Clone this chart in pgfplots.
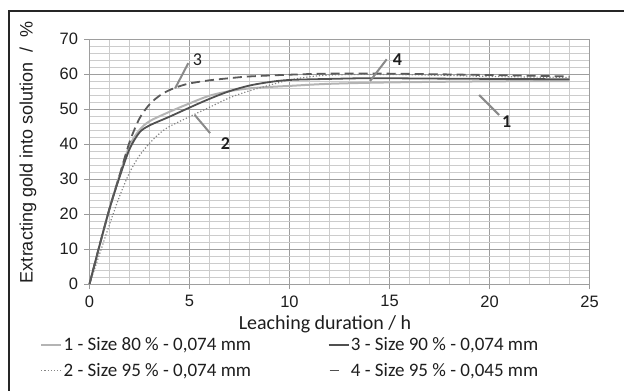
\documentclass[border=0pt]{standalone}
\usepackage{fontspec}
\setmainfont{Liberation Sans}
\newfontfamily\calibri{Carlito}
\newfontfamily\arialf{Liberation Sans}
\usepackage{pgfplots}
\usepackage{pgfplotstable}
\pgfplotsset{compat=1.18}
\definecolor{txt}{HTML}{1E1E1E}
\definecolor{lightc}{HTML}{B4B4B4}
\definecolor{darkc}{HTML}{505050}
\definecolor{dashc}{HTML}{5A5A5A}
\definecolor{dotc}{HTML}{858585}
\definecolor{leader}{HTML}{8A8A8A}

\pgfplotstableread{
x y
0 0
0.5 10.8
1 21.5
1.5 31
2 39.5
2.5 44
3 46.5
4 49.2
5 51.6
6 53.8
7 55.1
8 55.9
9 56.3
10 56.6
12 57.2
15 57.6
20 57.9
24 58
}\curveA

\pgfplotstableread{
x y
0 0
0.5 8.5
1 17
1.5 25
2 31.8
2.5 36.7
3 40.2
3.5 43
4 45
5 47.8
6 50.5
7 53.2
8 55.2
9 56.8
10 58.3
11 59.2
12 59.7
14 59.9
17 59.7
20 59.3
24 59
}\curveD

\pgfplotstableread{
x y
0 0
0.5 11
1 21.5
1.5 30.5
2 38.5
2.5 43.3
3 45.3
4 47.8
5 50.4
6 52.9
7 55.1
8 56.7
9 57.7
10 58.3
12 58.6
14 58.8
17 58.7
20 58.6
24 58.5
}\curveB

\pgfplotstableread{
x y
0 0
0.5 11
1 21.5
1.5 31
2 40.5
2.5 47.3
3 51.3
3.5 53.8
4 55.4
4.5 56.5
5 57.3
6 58.2
7 58.8
8 59.3
10 59.8
12 60.1
15 60.1
20 59.7
24 59.3
}\curveC

\begin{document}
\begin{tikzpicture}
\useasboundingbox (0,0) rectangle (624bp,391bp);
\draw[line width=1.6bp, black!85] (9bp,0) -- (9bp,380bp) -- (624bp,380bp);
\begin{axis}[
  at={(89.5bp,107bp)}, anchor=south west,
  scale only axis, width=500bp, height=245bp,
  xmin=0, xmax=25, ymin=0, ymax=70,
  xtick={0,5,...,25}, ytick={0,10,...,70},
  minor x tick num=4, minor y tick num=4,
  grid=both,
  major grid style={draw=black!38, line width=0.9bp},
  minor grid style={draw=black!20, line width=0.7bp},
  axis line style={draw=black!38, line width=0.9bp},
  tick align=outside, major tick length=5bp, minor tick length=0pt,
  tick style={draw=black!40, line width=0.9bp},
  tick pos=left,
  xticklabel={\arialf\fontsize{16.5bp}{19bp}\selectfont\pgfmathprintnumber[assume math mode=true]{\tick}},
  yticklabel={\arialf\fontsize{16.5bp}{19bp}\selectfont\pgfmathprintnumber[assume math mode=true]{\tick}},
  ticklabel style={text=txt},
  xticklabel style={yshift=-3bp},
  yticklabel style={xshift=-3bp},
  xlabel={Leaching duration / h},
  ylabel={Extracting gold into solution \ / \ \%},
  xlabel style={font=\calibri\fontsize{20bp}{24bp}\selectfont, text=txt, at={(axis description cs:0.471,-0.163)}, anchor=center},
  ylabel style={font=\arialf\fontsize{18bp}{22bp}\selectfont, text=txt, at={(axis description cs:-0.123,0.537)}, anchor=center},
  legend columns=2, transpose legend,
  legend cell align=left,
  legend image code/.code={\draw[#1] (0bp,0bp) -- (20bp,0bp);},
  legend style={draw=none, fill=none, at={(axis description cs:-0.105,-0.203)}, anchor=north west,
    font=\calibri\fontsize{19bp}{22bp}\selectfont, text=txt,
    /tikz/every even column/.append style={column sep=75bp},
    row sep=8bp, nodes={inner sep=1.5bp}},
  clip=false,
]
\addplot[lightc, line width=2bp, smooth] table[x=x,y=y] {\curveA};
\addlegendentry{1 - Size 80 \% - 0,074 mm}
\addplot[dotc, line width=1.2bp, smooth, dash pattern=on 1.2bp off 2bp] table[x=x,y=y] {\curveD};
\addlegendentry{2 - Size 95 \% - 0,074 mm}
\addplot[darkc, line width=1.8bp, smooth] table[x=x,y=y] {\curveB};
\addlegendentry{3 - Size 90 \% - 0,074 mm}
\addplot[dashc, line width=1.8bp, smooth, dash pattern=on 9bp off 5bp,
  legend image code/.code={\draw[darkc, line width=1.2bp] (1bp,0bp) -- (12bp,0bp);}] table[x=x,y=y] {\curveC};
\addlegendentry{4 - Size 95 \% - 0,045 mm}

\draw[leader, line width=2bp] (axis cs:4.28,55.9) -- (axis cs:4.94,63.1);
\draw[leader, line width=2bp] (axis cs:5.26,48.3) -- (axis cs:6.03,43.1);
\draw[leader, line width=2bp] (axis cs:14.03,58) -- (axis cs:14.86,64.2);
\draw[leader, line width=2bp] (axis cs:19.48,54) -- (axis cs:20.48,48.3);
\node[font=\calibri\fontsize{18bp}{22bp}\selectfont, text=txt] at (axis cs:5.4,64) {3};
\node[font=\calibri\bfseries\fontsize{18bp}{22bp}\selectfont, text=txt] at (axis cs:6.8,40) {2};
\node[font=\calibri\bfseries\fontsize{18bp}{22bp}\selectfont, text=txt] at (axis cs:15.4,64.2) {4};
\node[font=\calibri\bfseries\fontsize{18bp}{22bp}\selectfont, text=txt] at (axis cs:20.86,46.4) {1};
\end{axis}
\end{tikzpicture}
\end{document}
